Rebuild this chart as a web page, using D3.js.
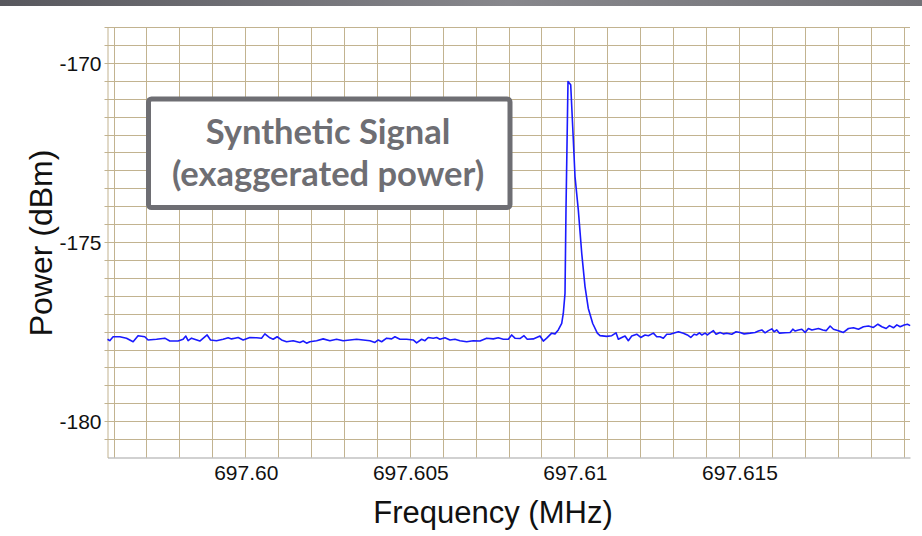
<!DOCTYPE html>
<html>
<head>
<meta charset="utf-8">
<script src="https://cdn.jsdelivr.net/npm/d3@7"></script>
<style>
  html, body { margin: 0; padding: 0; background: #ffffff; }
  svg { display: block; }
</style>
</head>
<body>
<script>
// ---------------- DATA ----------------
const freqMHz = [
  697.595800, 697.595869, 697.595970, 697.596173, 697.596377, 697.596578, 697.596729, 697.596933,
  697.597033, 697.597289, 697.597541, 697.597693, 697.597945, 697.598097, 697.598179, 697.598249,
  697.598353, 697.598605, 697.598827, 697.598930, 697.599112, 697.599313, 697.599465, 697.599568,
  697.599669, 697.599769, 697.599921, 697.600125, 697.600328, 697.600480, 697.600581, 697.600733,
  697.600833, 697.600954, 697.601088, 697.601240, 697.601441, 697.601644, 697.601745, 697.601848,
  697.601948, 697.602152, 697.602353, 697.602556, 697.602760, 697.602960, 697.603164, 697.603368,
  697.603568, 697.603772, 697.603924, 697.604024, 697.604128, 697.604280, 697.604432, 697.604532,
  697.604684, 697.604888, 697.605088, 697.605191, 697.605343, 697.605444, 697.605544, 697.605696,
  697.605799, 697.605900, 697.606052, 697.606204, 697.606356, 697.606508, 697.606711, 697.606912,
  697.607116, 697.607319, 697.607520, 697.607672, 697.607824, 697.607976, 697.608079, 697.608179,
  697.608331, 697.608453, 697.608553, 697.608736, 697.608939, 697.609040, 697.609143, 697.609295,
  697.609395, 697.609495, 697.609599, 697.609647, 697.609699, 697.609729, 697.609790, 697.609872,
  697.609933, 697.610003, 697.610103, 697.610207, 697.610307, 697.610407, 697.610541, 697.610681,
  697.610763, 697.610967, 697.611119, 697.611249, 697.611319, 697.611471, 697.611523, 697.611623,
  697.611726, 697.611878, 697.612000, 697.612131, 697.612231, 697.612383, 697.612486, 697.612587,
  697.612687, 697.612790, 697.612891, 697.612991, 697.613143, 697.613295, 697.613416, 697.613520,
  697.613620, 697.613702, 697.613781, 697.613854, 697.613954, 697.614024, 697.614106, 697.614207,
  697.614289, 697.614410, 697.614511, 697.614614, 697.614766, 697.614897, 697.615018, 697.615140,
  697.615322, 697.615474, 697.615574, 697.615678, 697.615778, 697.615879, 697.615982, 697.616052,
  697.616134, 697.616213, 697.616386, 697.616538, 697.616620, 697.616690, 697.616790, 697.616894,
  697.616994, 697.617094, 697.617198, 697.617298, 697.617398, 697.617532, 697.617632, 697.617754,
  697.617854, 697.618006, 697.618158, 697.618310, 697.618462, 697.618614, 697.618766, 697.618918,
  697.619070, 697.619204, 697.619325, 697.619456, 697.619556, 697.619678, 697.619781, 697.619881,
  697.620003, 697.620103, 697.620185
];
const powerDbm = [
  -177.70, -177.74, -177.63, -177.63, -177.67, -177.77, -177.60, -177.63,
  -177.72, -177.70, -177.67, -177.75, -177.75, -177.70, -177.61, -177.74,
  -177.67, -177.75, -177.58, -177.72, -177.74, -177.70, -177.66, -177.69,
  -177.67, -177.65, -177.72, -177.65, -177.66, -177.67, -177.55, -177.66,
  -177.70, -177.63, -177.72, -177.77, -177.74, -177.79, -177.75, -177.81,
  -177.77, -177.74, -177.69, -177.74, -177.70, -177.74, -177.72, -177.70,
  -177.72, -177.74, -177.79, -177.72, -177.77, -177.67, -177.69, -177.63,
  -177.70, -177.70, -177.72, -177.80, -177.70, -177.74, -177.65, -177.67,
  -177.65, -177.70, -177.66, -177.72, -177.70, -177.74, -177.77, -177.74,
  -177.75, -177.67, -177.69, -177.66, -177.70, -177.70, -177.58, -177.67,
  -177.68, -177.60, -177.70, -177.69, -177.61, -177.75, -177.67, -177.53,
  -177.55, -177.44, -177.26, -176.98, -176.42, -174.09, -170.51, -170.60,
  -171.77, -173.16, -174.09, -175.30, -176.23, -176.84, -177.26, -177.53,
  -177.60, -177.62, -177.60, -177.52, -177.70, -177.63, -177.61, -177.74,
  -177.61, -177.56, -177.65, -177.58, -177.60, -177.53, -177.63, -177.63,
  -177.67, -177.56, -177.56, -177.53, -177.49, -177.53, -177.58, -177.65,
  -177.56, -177.58, -177.52, -177.58, -177.53, -177.58, -177.52, -177.46,
  -177.56, -177.51, -177.55, -177.53, -177.56, -177.49, -177.51, -177.55,
  -177.53, -177.51, -177.47, -177.44, -177.52, -177.46, -177.41, -177.49,
  -177.44, -177.53, -177.52, -177.51, -177.42, -177.47, -177.44, -177.42,
  -177.51, -177.40, -177.44, -177.42, -177.40, -177.44, -177.46, -177.33,
  -177.42, -177.46, -177.51, -177.40, -177.38, -177.42, -177.35, -177.33,
  -177.37, -177.28, -177.35, -177.40, -177.32, -177.38, -177.30, -177.35,
  -177.30, -177.28, -177.32
];
const xTickValues = [697.600, 697.605, 697.610, 697.615];
const xTickLabels = ["697.60", "697.605", "697.61", "697.615"];
const yTickValues = [-170, -175, -180];
const yTickLabels = ["-170", "-175", "-180"];
const xDomain = [697.5958, 697.62018];
const yDomain = [-181, -169];
const annotationLines = ["Synthetic Signal", "(exaggerated power)"];
const xTitle = "Frequency (MHz)";
const yTitle = "Power (dBm)";

// ---------------- LAYOUT ----------------
const W = 922, H = 536;
const plot = { left: 107.5, right: 910, top: 27.5, bottom: 457.5 };
const gridColor = "#c2b390";

const svg = d3.select("body").append("svg")
  .attr("width", W).attr("height", H)
  .attr("font-family", "'Liberation Sans', Arial, sans-serif");

// top gradient bar
const defs = svg.append("defs");
const grad = defs.append("linearGradient").attr("id", "topbar").attr("x1", "0").attr("x2", "1");
grad.append("stop").attr("offset", "0").attr("stop-color", "#58585e");
grad.append("stop").attr("offset", "0.55").attr("stop-color", "#87878c");
grad.append("stop").attr("offset", "1").attr("stop-color", "#727277");
svg.append("rect").attr("x", 0).attr("y", 0).attr("width", W).attr("height", 6).attr("fill", "url(#topbar)");

const x = d3.scaleLinear().domain(xDomain).range([plot.left, plot.right]);
const y = d3.scaleLinear().domain(yDomain).range([plot.bottom, plot.top]);
const crisp = v => Math.round(v - 0.5) + 0.5;

// grid
const vGrid = d3.range(697596, 697621, 1).map(v => v / 1000);
const hGrid = d3.range(-361, -337, 1).map(v => v / 2);
const g = svg.append("g");
g.selectAll("line.v").data(vGrid).join("line")
  .attr("x1", d => crisp(x(d))).attr("x2", d => crisp(x(d)))
  .attr("y1", plot.top).attr("y2", plot.bottom)
  .attr("stroke", gridColor).attr("stroke-width", 1);
g.selectAll("line.h").data(hGrid).join("line")
  .attr("x1", plot.left - 3).attr("x2", plot.right)
  .attr("y1", d => crisp(y(d))).attr("y2", d => crisp(y(d)))
  .attr("stroke", gridColor).attr("stroke-width", 1);

// axes
const xAxis = d3.axisBottom(x).tickValues(xTickValues)
  .tickFormat((d, i) => xTickLabels[i]).tickSize(0).tickPadding(8);
const xg = svg.append("g").attr("transform", `translate(0,${plot.bottom})`).call(xAxis);
xg.select(".domain").attr("stroke", "#a3a3a3");
xg.selectAll("text").attr("font-size", 21).attr("fill", "#111");

const yAxis = d3.axisLeft(y).tickValues(yTickValues)
  .tickFormat((d, i) => yTickLabels[i]).tickSize(0).tickPadding(6);
const yg = svg.append("g").attr("transform", `translate(${plot.left},0)`).call(yAxis);
yg.select(".domain").attr("stroke", gridColor);
yg.selectAll("text").attr("font-size", 21).attr("fill", "#111");

// titles
svg.append("text").attr("x", 493).attr("y", 523).attr("text-anchor", "middle")
  .attr("font-size", 31).attr("fill", "#111").text(xTitle);
svg.append("text").attr("transform", "translate(52,243) rotate(-90)").attr("text-anchor", "middle")
  .attr("font-size", 32).attr("fill", "#111").text(yTitle);

// trace
const pts = freqMHz.map((f, i) => [f, powerDbm[i]]);
svg.append("path").datum(pts)
  .attr("d", d3.line().x(d => x(d[0])).y(d => y(d[1])))
  .attr("fill", "none").attr("stroke", "#1a1aff").attr("stroke-width", 1.6)
  .attr("stroke-linejoin", "round");

// annotation box
const box = svg.append("g");
box.append("rect").attr("x", 148.5).attr("y", 99).attr("width", 361.5).attr("height", 108.5)
  .attr("rx", 3).attr("fill", "#ffffff").attr("stroke", "#6e6e73").attr("stroke-width", 5);
box.selectAll("text").data(annotationLines).join("text")
  .attr("x", 328).attr("y", (d, i) => i === 0 ? 144 : 186)
  .attr("text-anchor", "middle").attr("font-family", "Lato, 'Open Sans', sans-serif")
  .attr("font-weight", "bold").attr("font-size", 34.5).attr("fill", "#6e6e73")
  .text(d => d);
</script>
</body>
</html>
